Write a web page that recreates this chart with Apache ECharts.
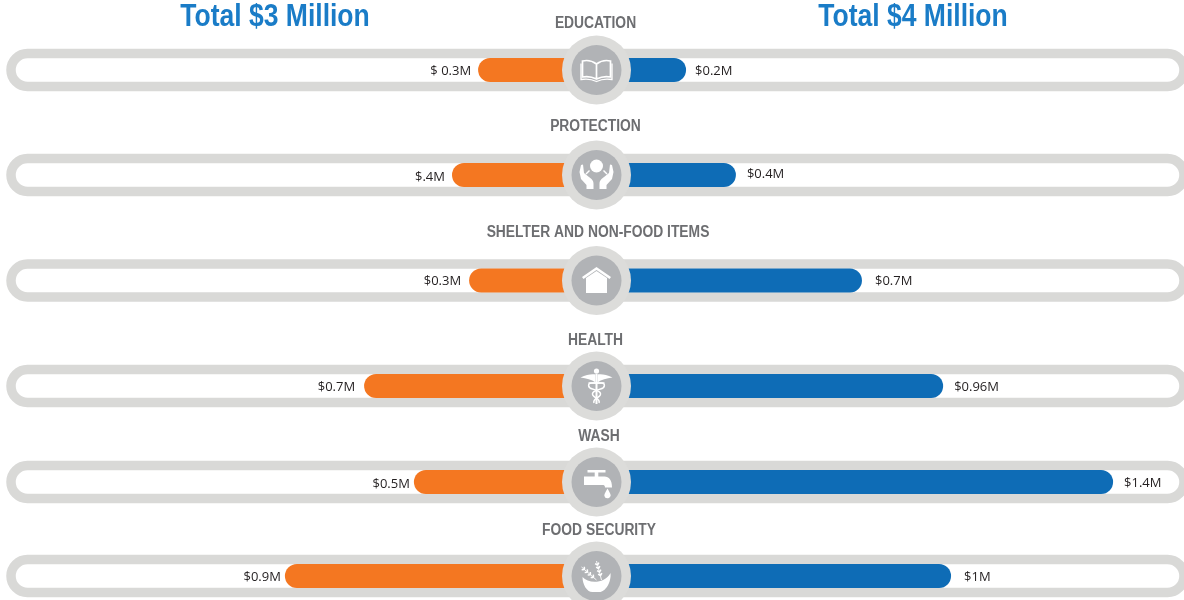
<!DOCTYPE html>
<html lang="en">
<head>
    <meta charset="UTF-8">
    <title>Funding by sector</title>
    <script src="https://cdn.jsdelivr.net/npm/echarts@6/dist/echarts.min.js"></script>
    <style>
        html, body { margin: 0; padding: 0; background: #fff; }
        #main { width: 1184px; height: 600px; }
    </style>
</head>
<body>
    <div id="main"></div>
    <script type="text/javascript">
        // data (values are bar lengths, labels are what the chart prints)
        var categories = ['EDUCATION', 'PROTECTION', 'SHELTER AND NON-FOOD ITEMS', 'HEALTH', 'WASH', 'FOOD SECURITY'];
        var leftValues = [0.293, 0.38, 0.323, 0.673, 0.507, 0.937];
        var rightValues = [0.179, 0.33, 0.712, 0.958, 1.473, 0.982];
        var leftLabels = ['$ 0.3M', '$.4M', '$0.3M', '$0.7M', '$0.5M', '$0.9M'];
        var rightLabels = ['$0.2M', '$0.4M', '$0.7M', '$0.96M', '$1.4M', '$1M'];
        var totals = ['Total $3 Million', 'Total $4 Million'];

        // layout, the rows are not evenly spaced in the original
        var cx = 596.5;
        var rowY = [70, 175, 280.5, 386, 482, 576];
        var titleX = [595.5, 595.5, 598, 595.5, 599, 599];
        var titleY = [23.5, 126.5, 232.5, 341, 437, 531];
        var leftGap = [7, 7, 8, 9, 4, 4];
        var rightGap = [9, 11, 13, 11, 11, 13];
        var leftShift = [1, 2, 1, 1, 2, 1];
        var rightShift = [1, -1, 1, 1, 1, 1];

        var ORANGE = '#f47721', BLUE = '#0e6cb6', TRACK = '#d9d9d7', DISC = '#b1b3b6', TITLE = '#6d6e71', WHITE = '#fff';
        var HEAD_FONT = 'bold 16px "Liberation Sans", sans-serif';
        var TOTAL_FONT = 'bold 31px "Liberation Sans", sans-serif';

        // icons in local coordinates around the disc centre
        function solid(d, mirror) { return { d: d, mirror: mirror }; }
        function line(d, w, mirror) { return { d: d, w: w, mirror: mirror }; }

        var icons = [
            // book
            [
                line('M0 -6C-4 -9 -10 -10 -14 -9V7C-9 6 -4 7 0 9C4 7 9 6 14 7V-9C10 -10 4 -9 0 -6ZM0 -6V9', 1.7),
                line('M-15.5 -6.5V9.5C-10 8.5 -4 9.5 0 11.5C4 9.5 10 8.5 15.5 9.5V-6.5', 1.3)
            ],
            // hands around a head
            [
                solid('M0 -15.5A6.5 6.5 0 1 0 0 -2.5A6.5 6.5 0 1 0 0 -15.5Z'),
                solid('M-17 -3L-15.5 -10L-13.5 -10.5L-12.5 -2L-5 4C-3.5 5.5 -3 7 -3 9V14H-10V10L-15.5 4Z', true),
                line('M-10.5 -1L-7 -4.5', 1.4, true)
            ],
            // house
            [
                solid('M0 -13.5L14.5 -3.5L13 -1.5L0 -10.5L-13 -1.5L-14.5 -3.5Z'),
                solid('M-10.5 -2.5L0 -9.5L10.5 -2.5V12.5H-10.5Z')
            ],
            // caduceus
            [
                solid('M0 -17.5A2.6 2.6 0 1 0 0 -12.3A2.6 2.6 0 1 0 0 -17.5Z'),
                solid('M-16 -8.5C-10 -11.5 -5 -12 -1 -11.5V-3.5C-5 -6.5 -10 -7.5 -16 -8.5Z', true),
                solid('M-1 -12H1V18H-1Z'),
                line('M-8 -3H5C9 -3 9 2 4 3C-2 4.5 -6 7 -3 10C-1 12.5 4 13 2.5 17', 1.5, true)
            ],
            // tap with a drop
            [
                solid('M-9 -12H9V-9.5H1.8V-5H-1.8V-9.5H-9Z'),
                solid('M-12.5 -5.5H8C12.5 -5.5 15.5 -2 15.5 5.5H8.5C8.5 3.5 7.5 3 6 3H-12.5Z'),
                solid('M11 6.5C9.5 9.5 7.8 11.5 7.8 13.8A3.3 3.3 0 0 0 14.2 13.8C14.2 11.5 12.5 9.5 11 6.5Z')
            ],
            // bowl of wheat
            [
                line('M-15 -9L0 4', 0.9),
                line('M-12 -6.4l-.2 -2.8M-12 -6.4l-2.8 .2M-9 -3.8l-.2 -2.8M-9 -3.8l-2.8 .2M-6 -1.2l-.2 -2.8M-6 -1.2l-2.8 .2M-3 1.4l-.2 -2.8M-3 1.4l-2.8 .2', 1.5),
                line('M0 -15L5 4', 0.9),
                line('M1 -11l1.4 -2.4M1 -11l-2.4 -1.4M2 -7.5l1.4 -2.4M2 -7.5l-2.4 -1.4M3 -4l1.4 -2.4M3 -4l-2.4 -1.4M4 -.5l1.4 -2.4M4 -.5l-2.4 -1.4', 1.5),
                solid('M-14 1C-8 8 8 8 14 -3C15 6 9 16 3 16H-4C-10 16 -14 8 -14 1Z')
            ]
        ];

        var elements = [
            { type: 'text', x: 275, y: 17.5, z: 5, scaleX: 0.855, style: { text: totals[0], font: TOTAL_FONT, fill: '#1a7cc7', align: 'center', verticalAlign: 'middle' } },
            { type: 'text', x: 913, y: 17.5, z: 5, scaleX: 0.855, style: { text: totals[1], font: TOTAL_FONT, fill: '#1a7cc7', align: 'center', verticalAlign: 'middle' } }
        ];

        var grids = [], xAxes = [], yAxes = [], series = [];

        categories.forEach(function (name, i) {
            var y = rowY[i];
            // rail behind the bars, its right end runs off the page
            elements.push({ type: 'rect', z: 0, shape: { x: 11, y: y - 16.5, width: 1173, height: 33, r: 16.5 }, style: { fill: WHITE, stroke: TRACK, lineWidth: 9.5 } });
            // disc on top of the bars
            elements.push({ type: 'circle', z: 10, shape: { cx: cx, cy: y, r: 34.5 }, style: { fill: '#dcdcda' } });
            elements.push({ type: 'circle', z: 11, shape: { cx: cx, cy: y, r: 25 }, style: { fill: DISC } });
            elements.push({ type: 'text', x: titleX[i], y: titleY[i], z: 5, scaleX: 0.865, style: { text: name, font: HEAD_FONT, fill: TITLE, align: 'center', verticalAlign: 'middle' } });

            // left half, zero at 566, 300px per million
            grids.push({ left: 26, width: 540, top: y - 12, height: 24 });
            xAxes.push({ type: 'value', gridIndex: i * 2, min: 0, max: 1.8, inverse: true, show: false });
            yAxes.push({ type: 'category', gridIndex: i * 2, data: [name], show: false });
            series.push({
                type: 'bar', xAxisIndex: i * 2, yAxisIndex: i * 2, barWidth: 24, silent: true,
                data: [leftValues[i]],
                itemStyle: { color: ORANGE, borderRadius: [12, 0, 0, 12] },
                label: { show: true, position: 'left', distance: leftGap[i], offset: [0, leftShift[i]], formatter: leftLabels[i], color: '#231f20', fontFamily: 'Open Sans', fontSize: 13, letterSpacing: -0.2 }
            });

            // right half, zero at 627, 330px per million
            grids.push({ left: 627, width: 495, top: y - 12, height: 24 });
            xAxes.push({ type: 'value', gridIndex: i * 2 + 1, min: 0, max: 1.5, show: false });
            yAxes.push({ type: 'category', gridIndex: i * 2 + 1, data: [name], show: false });
            series.push({
                type: 'bar', xAxisIndex: i * 2 + 1, yAxisIndex: i * 2 + 1, barWidth: 24, silent: true,
                data: [rightValues[i]],
                itemStyle: { color: BLUE, borderRadius: [0, 12, 12, 0] },
                label: { show: true, position: 'right', distance: rightGap[i], offset: [0, rightShift[i]], formatter: rightLabels[i], color: '#231f20', fontFamily: 'Open Sans', fontSize: 13, letterSpacing: -0.2 }
            });
        });

        // white icon glyphs sit on the discs
        function iconPart(p, flip) {
            return {
                type: 'path',
                scaleX: flip ? -1 : 1,
                shape: { pathData: p.d },
                style: p.w ? { fill: 'none', stroke: WHITE, lineWidth: p.w } : { fill: WHITE }
            };
        }
        series.push({
            type: 'custom',
            coordinateSystem: 'none',
            silent: true,
            z: 12,
            data: categories.map(function (c, i) { return i; }),
            renderItem: function (params) {
                var i = params.dataIndex, children = [];
                icons[i].forEach(function (p) {
                    children.push(iconPart(p, false));
                    if (p.mirror) children.push(iconPart(p, true));
                });
                return { type: 'group', x: cx, y: rowY[i], children: children };
            }
        });

        var myChart = echarts.init(document.getElementById('main'), null, { renderer: 'canvas' });
        myChart.setOption({
            animation: false,
            grid: grids,
            xAxis: xAxes,
            yAxis: yAxes,
            series: series,
            graphic: { elements: elements }
        });
    </script>
</body>
</html>
